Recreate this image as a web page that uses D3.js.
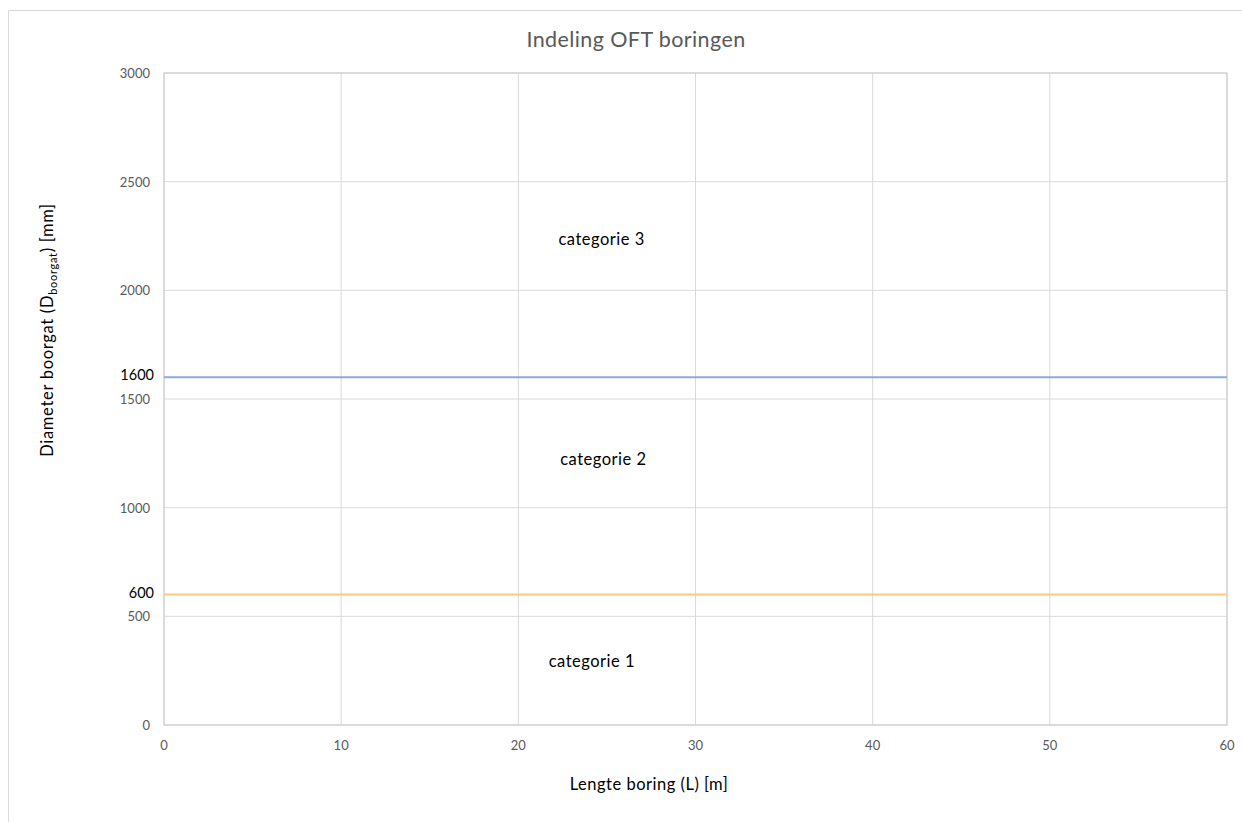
<!DOCTYPE html>
<html><head><meta charset="utf-8">
<script src="https://cdn.jsdelivr.net/npm/d3@7"></script>
<style>body{margin:0;background:#fff}svg{display:block}</style>
</head><body>
<svg id="c" width="1242" height="822"></svg>
<script>
const xTicks = [0,10,20,30,40,50,60];
const yTicks = [0,500,1000,1500,2000,2500,3000];
const boundaryNames = ["grens 1-2","grens 2-3"];
const boundaryX = [0,60];
const boundaryValues = [600,1600];
const boundaryColors = ["#FFC978","#8EAADB"];
const categoryNames = ["categorie 1","categorie 2","categorie 3"];
const categoryX = [24.15, 24.8, 24.7];
const categoryY = [290, 1220, 2230];

const svg = d3.select("#c");
const font = "Lato, 'Open Sans', sans-serif";
const m = {l:164, r:1227, t:73, b:725};
const x = d3.scaleLinear().domain([0,60]).range([m.l,m.r]);
const y = d3.scaleLinear().domain([0,3000]).range([m.b,m.t]);

// outer frame
svg.append("path").attr("d","M8.5,830 V10.5 H1250").attr("fill","none").attr("stroke","#d9d9d9");

// title
svg.append("text").attr("x",636).attr("y",47).attr("text-anchor","middle")
  .attr("font-family",font).attr("font-size",21.5).attr("letter-spacing",0.4).attr("fill","#595959").text("Indeling OFT boringen");

// gridlines
svg.append("g").selectAll("line").data(xTicks).join("line")
  .attr("x1",d=>x(d)).attr("x2",d=>x(d)).attr("y1",m.t).attr("y2",m.b)
  .attr("stroke","#d9d9d9").attr("stroke-width",1);
svg.append("g").selectAll("line").data(yTicks).join("line")
  .attr("x1",m.l).attr("x2",m.r).attr("y1",d=>y(d)).attr("y2",d=>y(d))
  .attr("stroke","#d9d9d9").attr("stroke-width",1);
svg.append("rect").attr("x",m.l).attr("y",m.t).attr("width",m.r-m.l).attr("height",m.b-m.t)
  .attr("fill","none").attr("stroke","#d0d0d0").attr("stroke-width",1.2);

// tick labels
svg.append("g").selectAll("text").data(yTicks).join("text")
  .attr("x",150).attr("y",d=>y(d)+5).attr("text-anchor","end")
  .attr("font-family",font).attr("font-size",13).attr("fill","#595959").text(d=>d);
svg.append("g").selectAll("text").data(xTicks).join("text")
  .attr("x",d=>x(d)).attr("y",750).attr("text-anchor","middle")
  .attr("font-family",font).attr("font-size",13).attr("fill","#595959").text(d=>d);

// boundary lines
const line = d3.line().x(d=>x(d[0])).y(d=>y(d[1]));
boundaryValues.forEach((v,i)=>{
  svg.append("path").datum(boundaryX.map(xx=>[xx,v])).attr("d",line)
    .attr("fill","none").attr("stroke",boundaryColors[i]).attr("stroke-width",2);
  svg.append("text").attr("x",154).attr("y",y(v)+3).attr("text-anchor","end")
    .attr("font-family",font).attr("font-size",14.5).attr("fill","#000").text(v);
});

// category labels
categoryNames.forEach((c,i)=>{
  svg.append("text").attr("x",x(categoryX[i])).attr("y",y(categoryY[i])+5).attr("text-anchor","middle")
    .attr("font-family",font).attr("font-size",16.5).attr("letter-spacing",0.5).attr("fill","#000").text(c);
});

// axis titles
svg.append("text").attr("x",649).attr("y",790).attr("text-anchor","middle")
  .attr("font-family",font).attr("font-size",16.5).attr("letter-spacing",0.5).attr("fill","#000").text("Lengte boring (L) [m]");
const yt = svg.append("text").attr("transform","translate(53,330) rotate(-90)").attr("text-anchor","middle")
  .attr("font-family",font).attr("font-size",16.5).attr("letter-spacing",0.7).attr("fill","#000");
yt.append("tspan").text("Diameter boorgat  (D");
yt.append("tspan").attr("font-size",11).attr("dy",4).text("boorgat");
yt.append("tspan").attr("dy",-4).text(") [mm]");
</script>
</body></html>
